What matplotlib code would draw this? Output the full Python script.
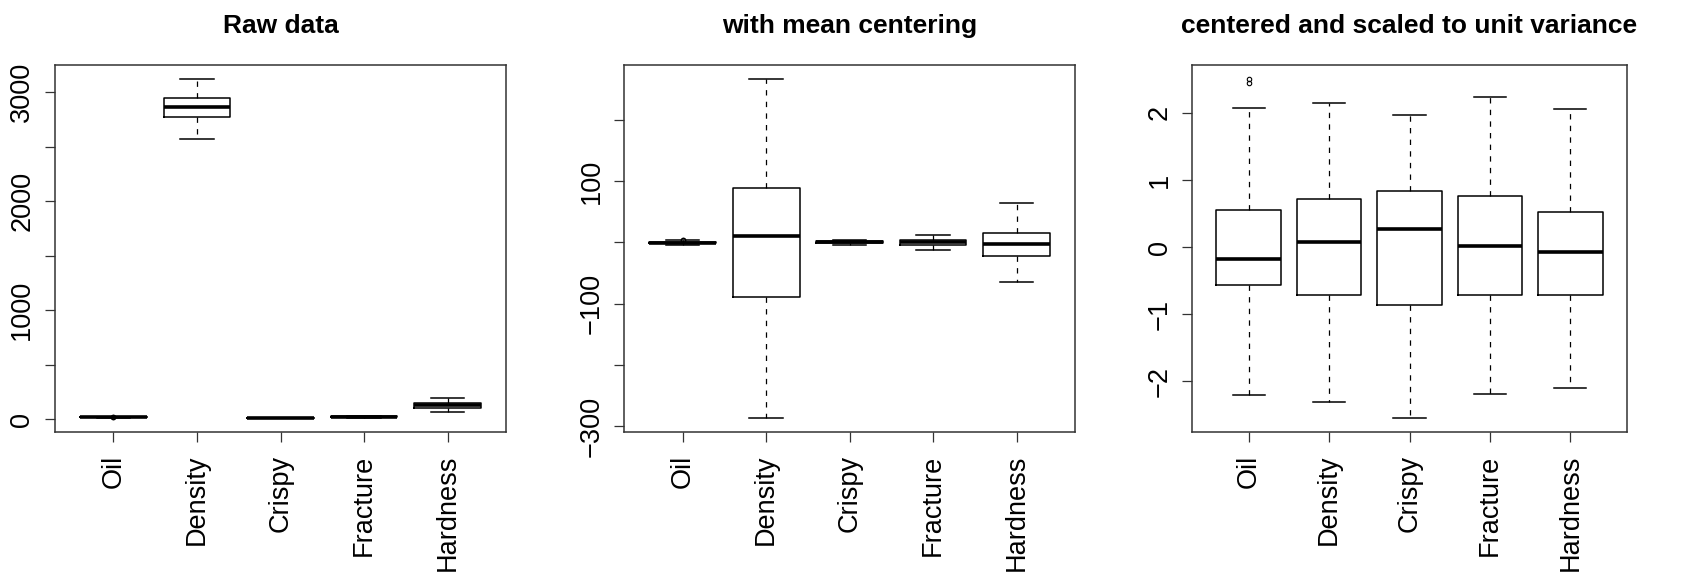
import matplotlib
matplotlib.use("Agg")
import matplotlib.pyplot as plt
import numpy as np

# Data: five-number summaries on the standardized scale, plus the mean/sd of each variable
variables = ['Oil', 'Density', 'Crispy', 'Fracture', 'Hardness']
means = [17.2, 2857.6, 11.52, 20.86, 128.2]
sds = [1.59, 124.5, 1.78, 5.47, 31.1]

z_whislo = [-2.20, -2.31, -2.55, -2.18, -2.09]
z_q1 = [-0.566, -0.715, -0.86, -0.715, -0.715]
z_med = [-0.18, 0.08, 0.27, 0.02, -0.075]
z_q3 = [0.56, 0.71, 0.835, 0.76, 0.517]
z_whishi = [2.076, 2.15, 1.97, 2.23, 2.06]
z_fliers = [[2.44, 2.51], [], [], [], []]

titles = ['Raw data', 'with mean centering', 'centered and scaled to unit variance']

plt.rcParams['font.family'] = ['Liberation Sans', 'DejaVu Sans']


def make_stats(offsets, scales):
    stats = []
    for i, name in enumerate(variables):
        f = lambda v: offsets[i] + scales[i] * v
        stats.append(dict(label=name,
                          whislo=f(z_whislo[i]), q1=f(z_q1[i]), med=f(z_med[i]),
                          q3=f(z_q3[i]), whishi=f(z_whishi[i]),
                          fliers=np.array([f(v) for v in z_fliers[i]])))
    return stats


zeros = [0.0] * len(variables)
ones = [1.0] * len(variables)
panels = [make_stats(means, sds), make_stats(zeros, sds), make_stats(zeros, ones)]

yticks = [np.arange(0, 3001, 500), np.arange(-300, 201, 100), np.arange(-2, 3, 1)]
ylabels = [lambda v: str(int(v)) if v % 1000 == 0 else '',
           lambda v: str(int(v)).replace('-', '\u2212') if v in (-300, -100, 100) else '',
           lambda v: str(int(v)).replace('-', '\u2212')]

fig = plt.figure(figsize=(17.01, 5.74), dpi=100)
lefts = [55, 624.3, 1192.3]
rights = [506, 1075, 1626.7]
W, H = 1701.0, 574.0

for k in range(3):
    ax = fig.add_axes([lefts[k] / W, 1 - 432 / H, (rights[k] - lefts[k]) / W, (432 - 65) / H])
    stats = panels[k]
    ax.bxp(stats, positions=range(1, 6), widths=0.8, showfliers=True,
           boxprops=dict(color='black', lw=1.1),
           medianprops=dict(color='black', lw=2.6, solid_capstyle='butt'),
           whiskerprops=dict(color='black', lw=0.9, linestyle=(0, (4.3, 5.0))),
           capprops=dict(color='black', lw=1.1),
           capwidths=0.4,
           flierprops=dict(marker='o', markersize=3.2, markerfacecolor='none',
                           markeredgecolor='black', markeredgewidth=0.8))

    vals = []
    for s in stats:
        vals += [s['whislo'], s['whishi']] + list(s['fliers'])
    lo, hi = min(vals), max(vals)
    pad = 0.04 * (hi - lo)
    ax.set_ylim(lo - pad, hi + pad)
    ax.set_xlim(0.3, 5.7)

    ax.set_xticks(range(1, 6))
    ax.set_xticklabels(variables, rotation=90, fontsize=19.5, va='top')
    ax.set_yticks(yticks[k])
    ax.set_yticklabels([ylabels[k](v) for v in yticks[k]], rotation=90, fontsize=19.5, va='center')
    ax.tick_params(axis='both', length=7.2, width=0.9, color='#333333')
    ax.tick_params(axis='x', pad=9)
    ax.tick_params(axis='y', pad=7)
    for sp in ax.spines.values():
        sp.set_linewidth(1.1)
        sp.set_color('#333333')

    fig.text((lefts[k] + rights[k]) / 2 / W, 1 - 33 / H, titles[k], ha='center', va='baseline',
             fontsize=19, fontweight='bold')

fig.savefig('out.png', dpi=100)
